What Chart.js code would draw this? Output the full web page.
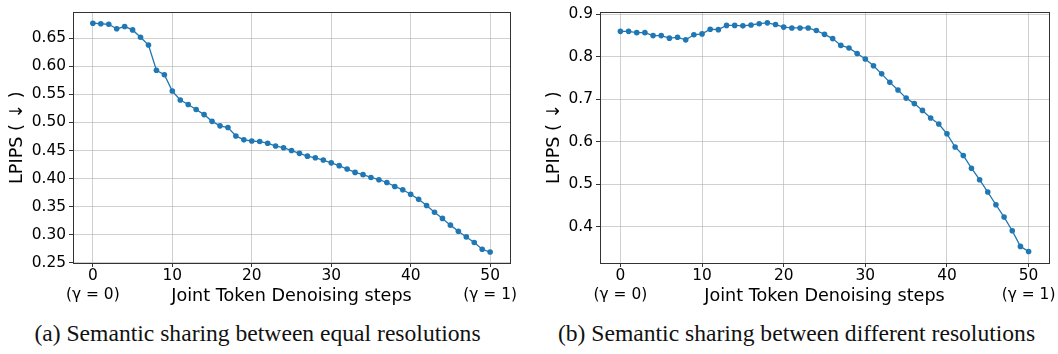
<!DOCTYPE html>
<html>
<head>
<meta charset="utf-8">
<script src="https://cdn.jsdelivr.net/npm/chart.js@4/dist/chart.umd.min.js"></script>
<style>
  html, body { margin: 0; padding: 0; background: #fff; }
  body { width: 1058px; height: 354px; position: relative; overflow: hidden; }
  canvas { position: absolute; top: 0; }
  #ca { left: 0; }
  #cb { left: 529px; }
  .cap { position: absolute; top: 318px; font-family: "Liberation Serif", "Times New Roman", serif; font-size: 23.6px; line-height: 30px; color: #111; white-space: nowrap; transform: translateX(-50%); }
</style>
</head>
<body>
<canvas id="ca" width="529" height="310"></canvas>
<canvas id="cb" width="529" height="310"></canvas>
<div class="cap" id="capA" style="left:257.5px">(a) Semantic sharing between equal resolutions</div>
<div class="cap" id="capB" style="left:796.5px">(b) Semantic sharing between different resolutions</div>
<script>
// ---- data ----
const steps = Array.from({length: 51}, (_, i) => i);
const lpipsEqual = [
  0.677, 0.676, 0.675, 0.667, 0.671, 0.665, 0.652, 0.638, 0.593, 0.585,
  0.556, 0.540, 0.532, 0.523, 0.514, 0.502, 0.494, 0.491, 0.476, 0.469,
  0.467, 0.466, 0.463, 0.458, 0.455, 0.450, 0.445, 0.440, 0.437, 0.433,
  0.428, 0.423, 0.417, 0.411, 0.407, 0.402, 0.398, 0.393, 0.386, 0.380,
  0.372, 0.363, 0.352, 0.340, 0.329, 0.317, 0.306, 0.296, 0.286, 0.274,
  0.269
];
const lpipsDifferent = [
  0.860, 0.860, 0.857, 0.857, 0.850, 0.850, 0.844, 0.846, 0.840, 0.852,
  0.854, 0.865, 0.864, 0.874, 0.874, 0.873, 0.875, 0.878, 0.880, 0.876,
  0.870, 0.868, 0.868, 0.868, 0.862, 0.853, 0.843, 0.827, 0.821, 0.808,
  0.795, 0.779, 0.760, 0.740, 0.722, 0.703, 0.690, 0.674, 0.656, 0.642,
  0.619, 0.588, 0.568, 0.538, 0.511, 0.482, 0.452, 0.423, 0.391, 0.354,
  0.342
];
const xTicks = [0, 10, 20, 30, 40, 50];
const xTickExtra = {0: '(γ = 0)', 50: '(γ = 1)'};
const yTicksA = [0.25, 0.30, 0.35, 0.40, 0.45, 0.50, 0.55, 0.60, 0.65];
const yTicksB = [0.4, 0.5, 0.6, 0.7, 0.8, 0.9];
const xTitle = 'Joint Token Denoising steps';
const yTitle = 'LPIPS ( ↓ )';

// ---- styling ----
Chart.defaults.font.family = '"DejaVu Sans", sans-serif';
Chart.defaults.color = '#000';
const BLUE = '#1f77b4';
const GRID = 'rgba(176,176,176,0.6)';
const SPINE = '#333';

const framePlugin = {
  id: 'frame',
  afterDatasetsDraw(chart) {
    const {ctx, chartArea: a} = chart;
    ctx.save();
    ctx.strokeStyle = SPINE;
    ctx.lineWidth = 1;
    ctx.strokeRect(Math.round(a.left) + 0.5, Math.round(a.top) + 0.5,
                   Math.round(a.right - a.left), Math.round(a.bottom - a.top));
    ctx.restore();
  }
};

function makeChart(id, values, yTicks, yMin, yMax, yDigits, yWidth, pad, yTitlePad) {
  return new Chart(document.getElementById(id), {
    type: 'line',
    data: {
      datasets: [{
        data: steps.map((s, i) => ({x: s, y: values[i]})),
        borderColor: BLUE,
        backgroundColor: BLUE,
        borderWidth: 1.3,
        pointRadius: 2.8,
        pointBorderWidth: 0,
        pointBackgroundColor: BLUE,
        tension: 0
      }]
    },
    options: {
      responsive: false,
      animation: false,
      devicePixelRatio: 1,
      layout: {padding: pad},
      plugins: {legend: {display: false}, tooltip: {enabled: false}},
      scales: {
        x: {
          type: 'linear',
          min: -2.5, max: 52.5,
          afterBuildTicks(s) { s.ticks = xTicks.map(v => ({value: v})); },
          afterFit(s) { s.height = 46; },
          ticks: {
            autoSkip: false, maxRotation: 0, padding: 0,
            font: {size: 15.4},
            callback: v => (xTickExtra[v] ? [String(v), xTickExtra[v]] : String(v))
          },
          grid: {color: GRID, lineWidth: 1, tickColor: SPINE, tickLength: 4, tickWidth: 1},
          border: {display: false},
          title: {display: true, text: xTitle, font: {size: 17.6}, padding: {top: 0, bottom: 2}}
        },
        y: {
          min: yMin, max: yMax,
          afterBuildTicks(s) { s.ticks = yTicks.map(v => ({value: v})); },
          afterFit(s) { s.width = yWidth; },
          ticks: {
            padding: 3,
            font: {size: 15.4},
            callback: v => Number(v).toFixed(yDigits)
          },
          grid: {color: GRID, lineWidth: 1, tickColor: SPINE, tickLength: 4, tickWidth: 1},
          border: {display: false},
          title: {display: true, text: yTitle, font: {size: 17.6}, padding: {top: yTitlePad, bottom: 0}}
        }
      }
    },
    plugins: [framePlugin]
  });
}

makeChart('ca', lpipsEqual, yTicksA, 0.2495, 0.6965, 2, 73, {left: 0, top: 6, right: 19, bottom: 1}, 7);
makeChart('cb', lpipsDifferent, yTicksB, 0.315, 0.905, 1, 71, {left: 0, top: 10, right: 9, bottom: 1}, 15);
</script>
</body>
</html>
